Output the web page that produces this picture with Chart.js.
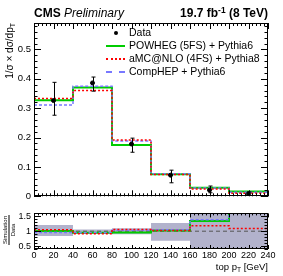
<!DOCTYPE html>
<html>
<head>
<meta charset="utf-8">
<script src="https://cdn.jsdelivr.net/npm/chart.js@4.4.1/dist/chart.umd.min.js"></script>
<style>
  body { margin:0; width:283px; height:276px; background:#fff; position:relative; overflow:hidden;
         font-family:"Liberation Sans", Arial, sans-serif; color:#000; }
  canvas { position:absolute; left:0; }
  #cMain { top:0; }
  #cRatio { top:205px; }
  .t { position:absolute; white-space:nowrap; }
  sub { font-size:70%; vertical-align:-0.25em; line-height:0; }
  sup { font-size:70%; vertical-align:0.45em; line-height:0; }
  .leg { position:absolute; left:106px; height:13px; line-height:13px; font-size:10.5px; white-space:nowrap; }
  .sw { display:inline-block; width:19px; vertical-align:middle; margin-right:4px; }
  .ytitle { position:absolute; transform-origin:0 0; white-space:nowrap; }
</style>
</head>
<body>
<canvas id="cMain" width="283" height="205"></canvas>
<canvas id="cRatio" width="283" height="71"></canvas>

<div class="t" style="left:34px; top:6px; font-size:12px; line-height:14px;"><b>CMS</b> <i>Preliminary</i></div>
<div class="t" style="right:15px; top:6px; font-size:12px; line-height:14px; font-weight:bold;">19.7 fb<sup>-1</sup> (8 TeV)</div>

<div class="ytitle" style="left:10px; top:23px; font-size:10px; line-height:12px; transform:rotate(-90deg) translate(-100%,-50%);">1/σ × dσ/dp<sub>T</sub></div>
<div class="ytitle" style="left:9px; top:230px; font-size:6px; line-height:7px; text-align:center; transform:rotate(-90deg) translate(-50%,-50%);">
  <div style="border-bottom:0.7px solid #000; padding:0 1px;">Simulation</div><div>Data</div>
</div>
<div class="t" style="right:15px; top:261px; font-size:9.5px; line-height:12px;">top p<sub>T</sub> [GeV]</div>

<div class="leg" style="top:25.5px;"><span class="sw" style="text-align:center;"><span style="display:inline-block;width:4px;height:4px;border-radius:2px;background:#000;vertical-align:middle;"></span></span>Data</div>
<div class="leg" style="top:38.5px;"><span class="sw" style="border-top:2px solid #00cc00;"></span>POWHEG (5FS) + Pythia6</div>
<div class="leg" style="top:52px;"><span class="sw" style="border-top:2px dotted #ff0000;"></span>aMC@NLO (4FS) + Pythia8</div>
<div class="leg" style="top:65px;"><span class="sw" style="border-top:2px dashed #7878ff;"></span>CompHEP + Pythia6</div>

<script>
// ---- data ----
const binEdges    = [0, 40, 80, 120, 160, 200, 240];
const dataVal     = [0.326, 0.386, 0.178, 0.072, 0.021, 0.009];
const dataErrUp   = [0.062, 0.020, 0.020, 0.017, 0.014, 0.006];
const dataErrDown = [0.050, 0.028, 0.028, 0.026, 0.009, 0.006];
const powheg      = [0.327, 0.370, 0.175, 0.075, 0.029, 0.016];
const amcnlo      = [0.333, 0.360, 0.192, 0.074, 0.025, 0.010];
const comphep     = [0.311, 0.375, 0.188, 0.077, 0.028, 0.014];

const ratioPowheg  = [1.01, 0.95, 0.96, 1.02, 1.34, 1.62];
const ratioAmcnlo  = [1.05, 0.91, 1.06, 1.02, 1.18, 1.09];
const ratioComphep = [0.96, 0.95, 1.03, 1.05, 1.39, 1.65];
const bandUp       = [1.21, 1.06, 1.10, 1.28, 1.70, 1.70];
const bandDown     = [0.84, 0.91, 0.90, 0.68, 0.30, 0.30];

const mainYTicks  = [0, 0.1, 0.2, 0.3, 0.4, 0.5];
const ratioYTicks = [0.5, 1, 1.5];

// histogram as stepped line: one point per edge, last bin repeated
function steps(vals) {
    return binEdges.map((x, i) => ({ x: x, y: vals[Math.min(i, vals.length - 1)] }));
}
const binCenters = dataVal.map((v, i) => (binEdges[i] + binEdges[i + 1]) / 2);

// ---- ROOT style frame with inward ticks ----
const rootFrame = {
    id: "rootFrame",
    afterDraw(chart, args, o) {
        const { ctx, chartArea: a, scales: { x, y } } = chart;
        ctx.save();
        ctx.strokeStyle = "#000";
        ctx.lineWidth = 1;
        ctx.beginPath();
        const isMajor = (v, step) => Math.abs(v / step - Math.round(v / step)) < 1e-6;
        for (let v = x.min; v <= x.max + 1e-9; v += o.xMinor) {
            const len = isMajor(v, o.xMajor) ? o.xLen : o.xLen / 2;
            const px = Math.round(x.getPixelForValue(v)) + 0.5;
            ctx.moveTo(px, a.bottom); ctx.lineTo(px, a.bottom - len);
            ctx.moveTo(px, a.top);    ctx.lineTo(px, a.top + len);
        }
        for (let v = o.yStart; v <= y.max + 1e-9; v += o.yMinor) {
            const len = isMajor(v, o.yMajor) ? o.yLen : o.yLen / 2;
            const py = Math.round(y.getPixelForValue(v)) + 0.5;
            ctx.moveTo(a.left, py);  ctx.lineTo(a.left + len, py);
            ctx.moveTo(a.right, py); ctx.lineTo(a.right - len, py);
        }
        ctx.stroke();
        ctx.strokeRect(Math.round(a.left) + 0.5, Math.round(a.top) + 0.5,
                       Math.round(a.right - a.left) - 1, Math.round(a.bottom - a.top) - 1);
        ctx.restore();
    }
};

// ---- error bars for the data points ----
const errorBars = {
    id: "errorBars",
    afterDatasetsDraw(chart) {
        const { ctx, scales: { x, y } } = chart;
        ctx.save();
        ctx.strokeStyle = "#000";
        ctx.lineWidth = 1;
        ctx.beginPath();
        dataVal.forEach((v, i) => {
            const px = Math.round(x.getPixelForValue(binCenters[i])) + 0.5;
            const yt = y.getPixelForValue(v + dataErrUp[i]);
            const yb = y.getPixelForValue(Math.max(v - dataErrDown[i], 0));
            ctx.moveTo(px, yt); ctx.lineTo(px, yb);
            ctx.moveTo(px - 2, yt); ctx.lineTo(px + 2, yt);
            ctx.moveTo(px - 2, yb); ctx.lineTo(px + 2, yb);
        });
        ctx.stroke();
        ctx.restore();
    }
};

function histo(vals, color, width, dash, order) {
    return {
        type: "line", data: steps(vals), stepped: true,
        borderColor: color, borderWidth: width, borderDash: dash,
        pointRadius: 0, fill: false, order: order
    };
}

new Chart(document.getElementById("cMain"), {
    type: "line",
    data: {
        datasets: [
            {
                type: "scatter",
                data: dataVal.map((v, i) => ({ x: binCenters[i], y: v })),
                backgroundColor: "#000", borderColor: "#000",
                pointRadius: 2, order: 0
            },
            histo(powheg,  "#00cc00", 2,   [],     3),
            histo(comphep, "#7878ff", 1.5, [3, 2], 2),
            histo(amcnlo,  "#ff0000", 1.5, [2, 2], 1)
        ]
    },
    options: {
        responsive: false,
        animation: false,
        layout: { padding: { top: 23, right: 15, bottom: 7, left: 0 } },
        plugins: {
            legend: { display: false },
            tooltip: { enabled: false },
            rootFrame: { xMajor: 20, xMinor: 4, xLen: 6, yStart: 0, yMajor: 0.1, yMinor: 0.02, yLen: 7 }
        },
        scales: {
            x: { type: "linear", min: 0, max: 240, display: false },
            y: {
                min: 0, max: 0.59,
                grid: { display: false, drawTicks: false }, border: { display: false },
                afterBuildTicks: s => { s.ticks = mainYTicks.map(v => ({ value: v })); },
                afterFit: s => { s.width = 34; },
                ticks: {
                    font: { family: "Liberation Sans", size: 9.5 }, color: "#000", padding: 3,
                    callback: v => (v === 0 ? "0" : v.toFixed(1))
                }
            }
        }
    },
    plugins: [rootFrame, errorBars]
});

new Chart(document.getElementById("cRatio"), {
    type: "line",
    data: {
        datasets: [
            { data: steps(bandDown), stepped: true, borderWidth: 0, pointRadius: 0, fill: false, order: 10 },
            { data: steps(bandUp), stepped: true, borderWidth: 0, pointRadius: 0,
              fill: "-1", backgroundColor: "rgb(178,178,204)", order: 9 },
            { data: [{ x: binEdges[0], y: 1 }, { x: binEdges[binEdges.length - 1], y: 1 }],
              borderColor: "#555", borderWidth: 1, borderDash: [4, 3], pointRadius: 0, fill: false, order: 8 },
            histo(ratioPowheg,  "#00cc00", 2,   [],     3),
            histo(ratioComphep, "#7878ff", 1.5, [3, 2], 2),
            histo(ratioAmcnlo,  "#ff0000", 1.5, [2, 2], 1)
        ]
    },
    options: {
        responsive: false,
        animation: false,
        layout: { padding: { top: 8, right: 15, bottom: 0, left: 0 } },
        plugins: {
            legend: { display: false },
            tooltip: { enabled: false },
            filler: { propagate: false },
            rootFrame: { xMajor: 20, xMinor: 4, xLen: 4, yStart: 0.4, yMajor: 0.5, yMinor: 0.1, yLen: 7 }
        },
        scales: {
            x: {
                type: "linear", min: 0, max: 240,
                grid: { display: false, drawTicks: false }, border: { display: false },
                afterFit: s => { s.height = 27; },
                ticks: {
                    stepSize: 20, includeBounds: false, autoSkip: false, maxRotation: 0,
                    font: { family: "Liberation Sans", size: 9 }, color: "#000", padding: 1
                }
            },
            y: {
                min: 0.4, max: 1.6,
                grid: { display: false, drawTicks: false }, border: { display: false },
                afterBuildTicks: s => { s.ticks = ratioYTicks.map(v => ({ value: v })); },
                afterFit: s => { s.width = 34; },
                ticks: {
                    font: { family: "Liberation Sans", size: 9 }, color: "#000", padding: 3,
                    callback: v => String(v)
                }
            }
        }
    },
    plugins: [rootFrame]
});
</script>
</body>
</html>
